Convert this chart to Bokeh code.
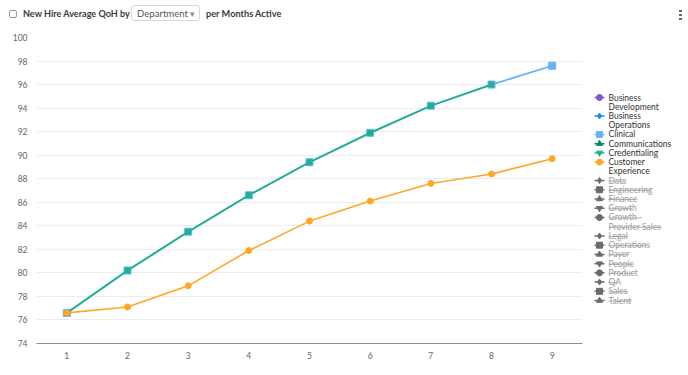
from bokeh.plotting import figure
from bokeh.models import Range1d, FixedTicker, Div
from bokeh.layouts import column, row
from bokeh.core.properties import value
from bokeh.embed import file_html
from bokeh.resources import INLINE

# ---------------- data ----------------
months = [1, 2, 3, 4, 5, 6, 7, 8, 9]
month_labels = ["1", "2", "3", "4", "5", "6", "7", "8", "9"]
clinical = [76.6, 80.2, 83.5, 86.6, 89.4, 91.9, 94.2, 96.0, 97.6]
credentialing_months = [1, 2, 3, 4, 5, 6, 7, 8]
credentialing = [76.6, 80.2, 83.5, 86.6, 89.4, 91.9, 94.2, 96.0]
customer_experience = [76.6, 77.1, 78.9, 81.9, 84.4, 86.1, 87.6, 88.4, 89.7]
y_ticks = [74, 76, 78, 80, 82, 84, 86, 88, 90, 92, 94, 96, 98, 100]

departments = ["Business Development", "Business Operations", "Clinical", "Communications",
               "Credentialing", "Customer Experience", "Data", "Engineering", "Finance", "Growth",
               "Growth - Provider Sales", "Legal", "Operations", "Payer", "People", "Product", "QA",
               "Sales", "Talent"]
dept_active = [True, True, True, True, True, True] + [False] * 13
dept_colors = ["#7e57c2", "#1e88e5", "#64b5f6", "#00896b", "#22b08c", "#ffa726"] + ["#6b6b6b"] * 13
symbols = ["circle", "diamond", "square", "triangle", "inverted_triangle"]

FONT = "Lato"

# ---------------- header ----------------
header_html = f"""
<div style="position:relative;width:680px;height:22px;font-family:'{FONT}';color:#333;">
  <span style="position:absolute;left:4px;top:5px;width:8px;height:8px;border:1px solid #9a9a9a;border-radius:2px;background:#fff;"></span>
  <span style="position:absolute;left:18px;top:2px;font-size:9.1px;font-weight:700;line-height:14px;white-space:nowrap;color:#3a3a3a;">New Hire Average QoH by</span>
  <span style="position:absolute;left:126px;top:0px;width:69px;height:16px;border:1px solid #d6d6d6;border-radius:3px;background:#fff;"></span>
  <span style="position:absolute;left:132px;top:2px;font-size:9.6px;line-height:14px;white-space:nowrap;color:#555;">Department</span>
  <span style="position:absolute;left:185px;top:2px;font-size:9px;line-height:14px;color:#888;">&#9662;</span>
  <span style="position:absolute;left:201px;top:2px;font-size:9.2px;font-weight:700;line-height:14px;white-space:nowrap;color:#3a3a3a;">per Months Active</span>
  <span style="position:absolute;left:674px;top:5px;width:3px;height:2px;background:#666;"></span>
  <span style="position:absolute;left:674px;top:9px;width:3px;height:2px;background:#666;"></span>
  <span style="position:absolute;left:674px;top:13px;width:3px;height:2px;background:#666;"></span>
</div>
"""
header = Div(text=header_html, width=680, height=22)

# ---------------- main chart ----------------
p = figure(width=587, height=337, output_backend="svg", toolbar_location=None,
           x_range=Range1d(0.5, 9.5), y_range=Range1d(74, 100),
           min_border_left=36, min_border_right=5, min_border_top=5, min_border_bottom=26)
p.outline_line_color = None
p.background_fill_color = "white"
p.border_fill_color = "white"

p.xaxis.ticker = FixedTicker(ticks=months)
p.xaxis.major_label_overrides = {m: l for m, l in zip(months, month_labels)}
p.xaxis.axis_line_color = "#8c8c8c"
p.xaxis.axis_line_width = 1.2
p.xaxis.major_tick_line_color = None
p.xaxis.minor_tick_line_color = None
p.xaxis.major_label_standoff = 2
p.xaxis.major_label_text_font = FONT
p.xaxis.major_label_text_font_size = "8.5px"
p.xaxis.major_label_text_color = "#666666"

p.yaxis.ticker = FixedTicker(ticks=y_ticks)
p.yaxis.axis_line_color = None
p.yaxis.major_tick_line_color = None
p.yaxis.minor_tick_line_color = None
p.yaxis.major_label_standoff = 3
p.yaxis.major_label_text_font = FONT
p.yaxis.major_label_text_font_size = "8.5px"
p.yaxis.major_label_text_color = "#666666"

p.xgrid.grid_line_color = None
p.ygrid.grid_line_color = "#ececec"
p.ygrid.grid_line_width = 1

# Clinical (underneath)
p.line(months, clinical, line_color=dept_colors[2], line_width=1.8)
p.scatter(months, clinical, marker="square", size=7, color=dept_colors[2])
# Credentialing
p.line(credentialing_months, credentialing, line_color=dept_colors[4], line_width=1.8)
p.scatter(credentialing_months, credentialing, marker="square", size=5, color=dept_colors[4])
# Customer Experience
p.line(months, customer_experience, line_color=dept_colors[5], line_width=1.6)
p.scatter(months, customer_experience, marker="circle", size=6, color=dept_colors[5])

# ---------------- legend panel ----------------
# the legend figure's frame is aligned with the chart frame (306 px tall)
LW = 92
FH = 306
lg = figure(width=LW, height=337, output_backend="svg", toolbar_location=None,
            x_range=Range1d(0, LW), y_range=Range1d(FH, 0),
            min_border=0, min_border_left=0, min_border_right=0, min_border_top=5, min_border_bottom=26)
lg.axis.visible = False
lg.grid.visible = False
lg.outline_line_color = None
lg.border_fill_color = "white"

line_h = 9.23
y0 = 60
mx0, mx1, tx = 7, 17, 21

def wrap(label, maxc=14):
    words = label.split(" ")
    lines, cur = [], ""
    for w in words:
        cand = (cur + " " + w).strip()
        if len(cand) > maxc and cur:
            lines.append(cur)
            cur = w
        else:
            cur = cand
    lines.append(cur)
    return lines

t_x, t_y, t_txt, t_col = [], [], [], []
s_x0, s_x1, s_y = [], [], []
m_y = {s: [] for s in symbols}
m_c = {s: [] for s in symbols}
seg_y, seg_c = [], []
row_i = 0
for i, name in enumerate(departments):
    lines = wrap(name)
    ym = y0 + row_i * line_h
    sym = symbols[i % len(symbols)]
    m_y[sym].append(ym)
    m_c[sym].append(dept_colors[i])
    seg_y.append(ym)
    seg_c.append(dept_colors[i])
    for ln in lines:
        yy = y0 + row_i * line_h
        t_x.append(tx)
        t_y.append(yy)
        t_txt.append(ln)
        t_col.append("#333333" if dept_active[i] else "#9a9a9a")
        if not dept_active[i]:
            s_x0.append(tx)
            s_x1.append(tx + len(ln) * 3.75 + 1.0)
            s_y.append(yy + 0.5)
        row_i += 1

lg.segment(x0=[mx0] * len(seg_y), y0=seg_y, x1=[mx1] * len(seg_y), y1=seg_y,
           line_color=seg_c, line_width=1.5)
for sym in symbols:
    if m_y[sym]:
        lg.scatter(x=[(mx0 + mx1) / 2] * len(m_y[sym]), y=m_y[sym], marker=sym, size=6,
                   color=m_c[sym])
lg.text(x=t_x, y=t_y, text=t_txt, text_color=t_col, text_font_size="8.5px",
        text_baseline="middle", text_align="left", text_font=value(FONT))
lg.segment(x0=s_x0, y0=s_y, x1=s_x1, y1=s_y, line_color="#9a9a9a", line_width=0.8)

layout = column(header, row(p, lg, spacing=0), spacing=0)

open("out.html", "w").write(file_html(layout, INLINE))
